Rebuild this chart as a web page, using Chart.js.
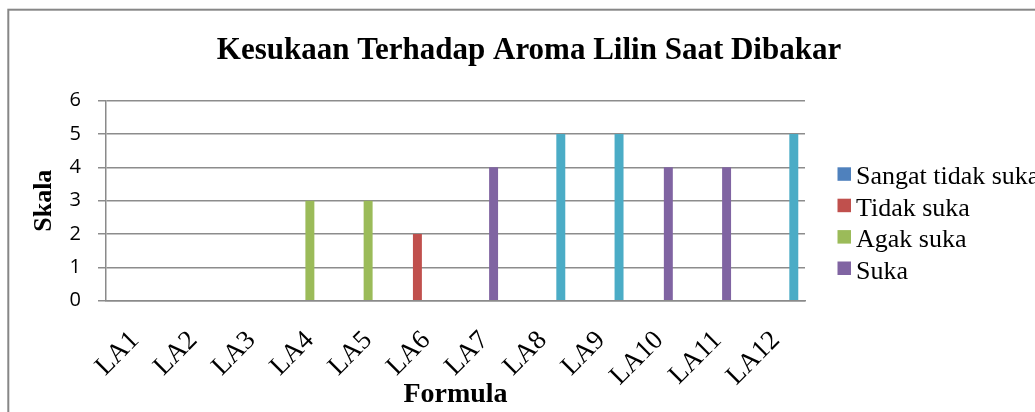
<!DOCTYPE html>
<html>
<head>
<meta charset="utf-8">
<script src="https://cdn.jsdelivr.net/npm/chart.js@4.4.1/dist/chart.umd.min.js"></script>
<style>
  html, body { margin: 0; padding: 0; background: #ffffff; overflow: hidden; }
  #wrap { width: 1035px; height: 412px; overflow: hidden; }
</style>
</head>
<body>
<div id="wrap"><canvas id="c" width="1035" height="412"></canvas></div>
<script>
// ---- data ----
const chartTitle = 'Kesukaan Terhadap Aroma Lilin Saat Dibakar';
const categories = ['LA1','LA2','LA3','LA4','LA5','LA6','LA7','LA8','LA9','LA10','LA11','LA12'];
const sangatTidakSuka = [null,null,null,null,null,null,null,null,null,null,null,null];
const tidakSuka       = [null,null,null,null,null,2,null,null,null,null,null,null];
const agakSuka        = [null,null,null,3,3,null,null,null,null,null,null,null];
const suka            = [null,null,null,null,null,null,4,null,null,4,4,null];
const sangatSuka      = [null,null,null,null,null,null,null,5,5,null,null,5];
const seriesNames = ['Sangat tidak suka','Tidak suka','Agak suka','Suka','Sangat suka'];
const yTicks = [0,1,2,3,4,5,6];
const xTitle = 'Formula';
const yTitle = 'Skala';
// the source legend only shows its first four entries (the fifth is clipped)
const legendShown = 4;

const colors = ['#4F81BD','#C0504D','#9BBB59','#8064A2','#4BACC6'];
const seriesData = [sangatTidakSuka, tidakSuka, agakSuka, suka, sangatSuka];

const frameAndText = {
  id: 'frameAndText',
  beforeDraw(chart) {
    const ctx = chart.ctx;
    ctx.save();
    ctx.fillStyle = '#ffffff';
    ctx.fillRect(0, 0, chart.width, chart.height);
    ctx.strokeStyle = '#878787';
    ctx.lineWidth = 2;
    ctx.strokeRect(8.3, 9.7, 1200, 600);
    ctx.restore();
  },
  afterDraw(chart) {
    const ctx = chart.ctx;
    ctx.save();
    // title
    ctx.fillStyle = '#000000';
    ctx.font = 'bold 31px "Liberation Serif", "Times New Roman", serif';
    ctx.textAlign = 'center';
    ctx.textBaseline = 'alphabetic';
    ctx.fillText(chartTitle, 529, 59);
    // legend
    ctx.font = '26px "Liberation Serif", "Times New Roman", serif';
    ctx.textAlign = 'left';
    chart.data.datasets.slice(0, legendShown).forEach((ds, i) => {
      const base = 184.3 + i * 31.4;
      ctx.fillStyle = ds.backgroundColor;
      ctx.fillRect(837.5, base - 17, 13.5, 13.5);
      ctx.fillStyle = '#000000';
      ctx.fillText(ds.label, 856, base);
    });
    ctx.restore();
  }
};

new Chart(document.getElementById('c'), {
  type: 'bar',
  data: {
    labels: categories,
    datasets: seriesNames.map((name, i) => ({
      label: name,
      data: seriesData[i],
      backgroundColor: colors[i],
      borderWidth: 0,
      barPercentage: 1.0,
      categoryPercentage: 5 / 6.5
    }))
  },
  options: {
    responsive: false,
    animation: false,
    devicePixelRatio: 1,
    layout: { padding: { top: 100.7, right: 230, left: 0, bottom: 0 } },
    plugins: {
      legend: { display: false },
      title: { display: false },
      tooltip: { enabled: false }
    },
    scales: {
      x: {
        afterFit(scale) { scale.height = 111.3; },
        grid: { display: false, drawTicks: false },
        border: { display: true, color: '#8a8a8a', width: 1.5 },
        ticks: {
          color: '#000000',
          font: { family: '"Liberation Serif", "Times New Roman", serif', size: 27 },
          maxRotation: 45,
          minRotation: 45,
          padding: 24,
          autoSkip: false
        },
        title: {
          display: true,
          text: xTitle,
          color: '#000000',
          font: { family: '"Liberation Serif", "Times New Roman", serif', size: 28, weight: 'bold' },
          padding: { top: 0, bottom: 0 }
        }
      },
      y: {
        min: 0,
        max: 6,
        afterFit(scale) { scale.width = 106; },
        afterBuildTicks(scale) { scale.ticks = yTicks.map(v => ({ value: v })); },
        grid: { color: '#8c8c8c', lineWidth: 1.5, tickLength: 8, drawTicks: true },
        border: { display: true, color: '#8a8a8a', width: 1.5 },
        ticks: {
          color: '#000000',
          font: { family: '"Open Sans", "Liberation Sans", sans-serif', size: 20 },
          padding: 17
        },
        title: {
          display: true,
          text: yTitle,
          color: '#000000',
          font: { family: '"Liberation Serif", "Times New Roman", serif', size: 26, weight: 'bold' },
          padding: { top: 29, bottom: 0 }
        }
      }
    }
  },
  plugins: [frameAndText]
});
</script>
</body>
</html>
